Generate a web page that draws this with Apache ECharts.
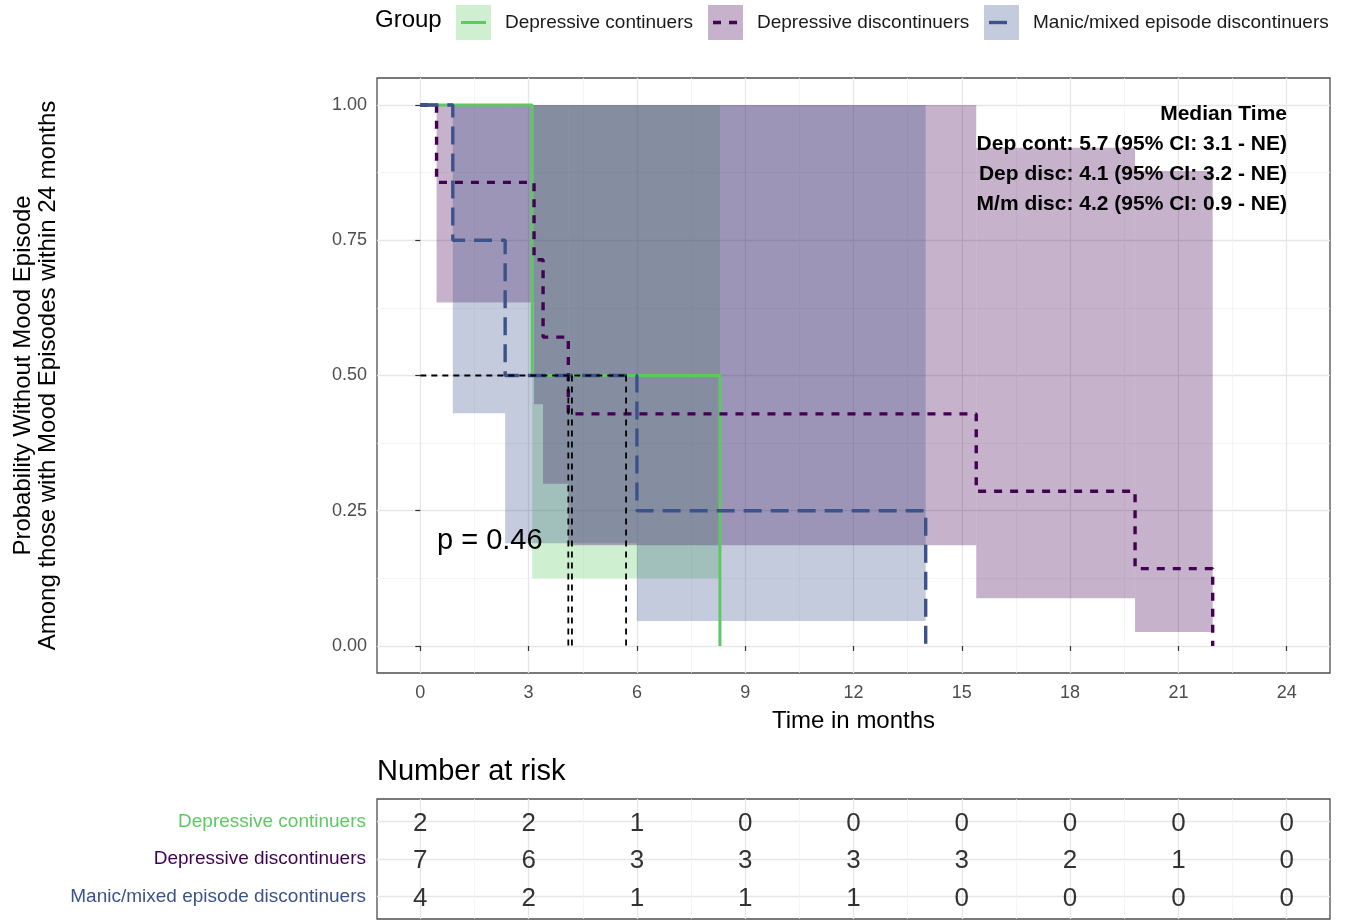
<!DOCTYPE html>
<html><head><meta charset="utf-8">
<script src="https://cdn.jsdelivr.net/npm/echarts@6/dist/echarts.min.js"></script>
<style>html,body{margin:0;padding:0;background:#fff}#c{width:1353px;height:921px}</style>
</head><body><div id="c"></div>
<script>
const groups = ['Depressive continuers', 'Depressive discontinuers', 'Manic/mixed episode discontinuers'];
const colors = ['#5ec962', '#440154', '#3b528b'];

// Kaplan-Meier step curves: [time, survival]
const depContCurve = [[0, 1], [3.1, 0.5], [8.3, 0]];
const depDiscCurve = [[0, 1], [0.45, 0.857], [3.15, 0.714], [3.4, 0.571], [4.1, 0.429], [15.4, 0.286], [19.8, 0.143], [21.95, 0]];
const manicCurve = [[0, 1], [0.9, 0.75], [2.35, 0.5], [6.0, 0.25], [14.0, 0]];

// Confidence bands: [start, end, lower, upper]
const depContBand = [[3.1, 8.3, 0.125, 1]];
const depDiscBand = [[0.45, 3.15, 0.635, 1], [3.15, 3.4, 0.447, 1], [3.4, 4.1, 0.30, 1], [4.1, 15.4, 0.186, 1], [15.4, 19.8, 0.088, 0.921], [19.8, 21.95, 0.026, 0.878]];
const manicBand = [[0.9, 2.35, 0.43, 1], [2.35, 6.0, 0.19, 1], [6.0, 14.0, 0.046, 1]];

const medianTimes = [5.7, 4.1, 4.2];
const medianLevel = 0.5;

const xTicks = [0, 3, 6, 9, 12, 15, 18, 21, 24];
const xMinor = [1.5, 4.5, 7.5, 10.5, 13.5, 16.5, 19.5, 22.5];
const yTicks = [0, 0.25, 0.5, 0.75, 1];
const yMinor = [0.125, 0.375, 0.625, 0.875];

const riskTimes = [0, 3, 6, 9, 12, 15, 18, 21, 24];
const riskDepCont = [2, 2, 1, 0, 0, 0, 0, 0, 0];
const riskDepDisc = [7, 6, 3, 3, 3, 3, 2, 1, 0];
const riskManic = [4, 2, 1, 1, 1, 0, 0, 0, 0];

const pText = 'p = 0.46';
const medianText = ['Median Time', 'Dep cont: 5.7 (95% CI: 3.1 - NE)', 'Dep disc: 4.1 (95% CI: 3.2 - NE)', 'M/m disc: 4.2 (95% CI: 0.9 - NE)'];

const FONT = "'Liberation Sans', Arial, Helvetica, sans-serif";
const chart = echarts.init(document.getElementById('c'), null, {renderer: 'canvas'});

function bandRender(color) {
  return function (params, api) {
    const p0 = api.coord([api.value(0), api.value(3)]);
    const p1 = api.coord([api.value(1), api.value(2)]);
    return {type: 'rect', shape: {x: p0[0], y: p0[1], width: p1[0] - p0[0], height: p1[1] - p0[1]},
      style: {fill: color, opacity: 0.3}};
  };
}
const bands = [depContBand, depDiscBand, manicBand];
const curves = [depContCurve, depDiscCurve, manicCurve];
const lineTypes = ['solid', [8, 8], [18, 9]];
const lineWidths = [3, 3.4, 3.4];
const risks = [riskDepCont, riskDepDisc, riskManic];

const series = [];
bands.forEach((b, i) => series.push({
  type: 'custom', name: groups[i] + ' CI', xAxisIndex: 0, yAxisIndex: 0, z: 1,
  renderItem: bandRender(colors[i]), encode: {x: [0, 1], y: [2, 3]}, data: b, silent: true
}));
curves.forEach((c, i) => series.push({
  type: 'line', name: groups[i], xAxisIndex: 0, yAxisIndex: 0, step: 'end', showSymbol: false, z: 3,
  data: c, lineStyle: {color: colors[i], width: lineWidths[i], type: lineTypes[i]}, animation: false
}));
// median reference lines
series.push({type: 'line', xAxisIndex: 0, yAxisIndex: 0, showSymbol: false, z: 5,
  data: [[0, medianLevel], [Math.max(...medianTimes), medianLevel]],
  lineStyle: {color: '#000', width: 1.8, type: [6, 5]}});
medianTimes.forEach(t => series.push({type: 'line', xAxisIndex: 0, yAxisIndex: 0, showSymbol: false, z: 5,
  data: [[t, medianLevel], [t, 0]], lineStyle: {color: '#000', width: 1.8, type: [6, 5]}}));
// risk table
risks.forEach((r, g) => series.push({
  type: 'scatter', xAxisIndex: 2, yAxisIndex: 2, symbolSize: 0, z: 5,
  data: riskTimes.map((t, i) => [t, g + 1, r[i]]),
  label: {show: true, position: 'inside', offset: [0, 2], formatter: p => String(p.value[2]), fontSize: 26, color: '#000', fontFamily: FONT}
}));

function xMajor(grid, showLabel) {
  return {type: 'value', gridIndex: grid, min: -1.2, max: 25.2, position: 'bottom',
    axisLine: {show: false},
    axisTick: {show: showLabel, customValues: xTicks, length: 5, lineStyle: {color: '#333', width: 1.2}},
    axisLabel: {show: showLabel, customValues: xTicks, fontSize: 18, color: '#4d4d4d', margin: 11, fontFamily: FONT},
    splitLine: {show: true, lineStyle: {color: '#e6e6e6', width: 1.3}}};
}
function xMinorAxis(grid) {
  return {type: 'value', gridIndex: grid, min: -1.2, max: 25.2, position: 'bottom',
    axisLine: {show: false}, axisTick: {show: false, customValues: xMinor}, axisLabel: {show: false, customValues: xMinor},
    splitLine: {show: true, lineStyle: {color: '#f0f0f0', width: 0.7}}};
}

const xAxis = [xMajor(0, true), xMinorAxis(0), xMajor(1, false), xMinorAxis(1)];
Object.assign(xAxis[0], {name: 'Time in months', nameLocation: 'middle', nameGap: 36,
  nameTextStyle: {fontSize: 24, color: '#000', fontFamily: FONT}});

const yAxis = [
  {type: 'value', gridIndex: 0, min: -0.05, max: 1.05, position: 'left',
    axisLine: {show: false},
    axisTick: {show: true, customValues: yTicks, length: 5, lineStyle: {color: '#333', width: 1.2}},
    axisLabel: {customValues: yTicks, formatter: v => Number(v).toFixed(2), fontSize: 18, color: '#4d4d4d', margin: 10, fontFamily: FONT},
    splitLine: {show: true, lineStyle: {color: '#e6e6e6', width: 1.3}},
    name: 'Probability Without Mood Episode\nAmong those with Mood Episodes within 24 months',
    nameLocation: 'middle', nameRotate: 90, nameGap: 316,
    nameTextStyle: {fontSize: 24, lineHeight: 25, color: '#000', fontFamily: FONT}},
  {type: 'value', gridIndex: 0, min: -0.05, max: 1.05, position: 'left',
    axisLine: {show: false}, axisTick: {show: false, customValues: yMinor}, axisLabel: {show: false, customValues: yMinor},
    splitLine: {show: true, lineStyle: {color: '#f0f0f0', width: 0.7}}},
  {type: 'value', gridIndex: 1, min: 0.4, max: 3.6, inverse: true, position: 'left',
    axisLine: {show: false}, axisTick: {show: false, customValues: [1, 2, 3]},
    axisLabel: {customValues: [1, 2, 3], formatter: v => groups[Math.round(v) - 1], fontSize: 19, margin: 11,
      color: v => colors[Math.round(+v) - 1], fontFamily: FONT},
    splitLine: {show: true, lineStyle: {color: '#e6e6e6', width: 1.3}}}
];

// legend drawn as keys (fill box + line sample) with real text
const legendX = [456, 708, 984];
const legendGraphics = [{type: 'text', left: 375, top: 8, style: {text: 'Group', fontSize: 24, fill: '#000', fontFamily: FONT}}];
groups.forEach((g, i) => {
  const x = legendX[i];
  legendGraphics.push({type: 'rect', shape: {x: x, y: 5, width: 35, height: 35}, style: {fill: colors[i], opacity: 0.3}});
  legendGraphics.push({type: 'line', shape: {x1: x + 5, y1: 22.5, x2: x + 30, y2: 22.5},
    style: {stroke: colors[i], lineWidth: lineWidths[i], lineDash: i === 0 ? null : lineTypes[i]}});
  legendGraphics.push({type: 'text', x: x + 49, y: 22.5, style: {text: g, fontSize: 19, fill: '#1a1a1a', fontFamily: FONT, textVerticalAlign: 'middle'}});
});
legendGraphics.push({type: 'text', x: 437, y: 541, z: 10, style: {text: pText, fontSize: 29, fill: '#000', fontFamily: FONT, textVerticalAlign: 'middle'}});
legendGraphics.push({type: 'text', x: 1287, y: 99, z: 10, style: {text: medianText.join('\n'), fontSize: 21, lineHeight: 30,
  fontWeight: 'bold', fill: '#000', fontFamily: FONT, textAlign: 'right'}});

chart.setOption({
  animation: false,
  backgroundColor: '#fff',
  textStyle: {fontFamily: FONT},
  title: {text: 'Number at risk', left: 372, top: 752, textStyle: {fontSize: 29, fontWeight: 'normal', color: '#000', fontFamily: FONT}},
  grid: [
    {left: 377, top: 78, width: 953, height: 595, show: true, borderColor: '#4d4d4d', borderWidth: 1.3, backgroundColor: '#fff', containLabel: false},
    {left: 377, top: 799, width: 953, height: 120, show: true, borderColor: '#4d4d4d', borderWidth: 1.3, backgroundColor: '#fff', containLabel: false}
  ],
  xAxis: xAxis,
  yAxis: yAxis,
  series: series,
  graphic: legendGraphics
});
</script></body></html>
